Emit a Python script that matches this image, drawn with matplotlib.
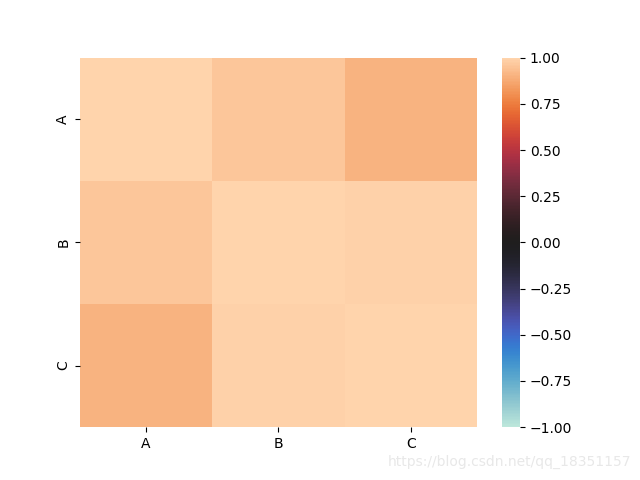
import matplotlib
matplotlib.use("Agg")
import matplotlib.pyplot as plt
import seaborn as sns
import pandas as pd
import numpy as np

labels = ["A", "B", "C"]
row_A = [1.00, 0.96, 0.90]
row_B = [0.96, 1.00, 0.99]
row_C = [0.90, 0.99, 1.00]

df = pd.DataFrame([row_A, row_B, row_C], index=labels, columns=labels)

fig, ax = plt.subplots(figsize=(6.4, 4.8), dpi=100)
sns.heatmap(df, vmin=-1, vmax=1, cmap="icefire", ax=ax)
fig.text(0.987, 0.037, "https://blog.csdn.net/qq_18351157", ha="right", va="center",
         color="#e8e8e8", fontsize=10)
fig.savefig("out.png", dpi=100)
